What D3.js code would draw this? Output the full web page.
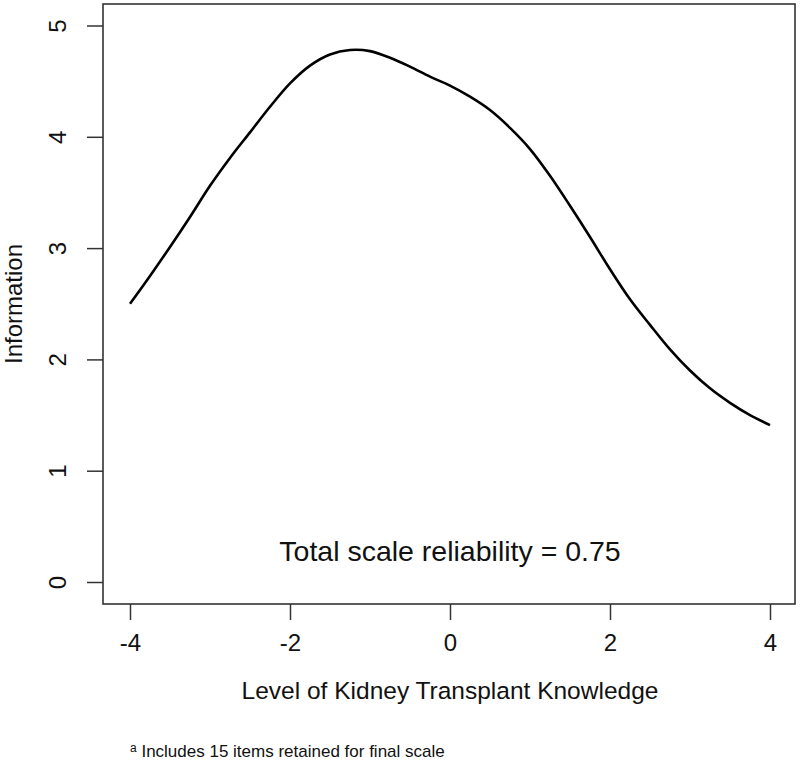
<!DOCTYPE html>
<meta charset="utf-8">
<script src="https://d3js.org/d3.v7.min.js"></script>
<style>
  body { margin: 0; background: #fff; }
  text { font-family: "Liberation Sans", Arial, sans-serif; fill: #111; }
</style>
<div id="my_dataviz"></div>
<script>

// test information curve
var theta = [-4, -3.75, -3.5, -3.25, -3, -2.75, -2.5, -2.25, -2, -1.75, -1.5, -1.25,
             -1, -0.75, -0.5, -0.25, 0, 0.25, 0.5, 0.75, 1, 1.25, 1.5, 1.75,
             2, 2.25, 2.5, 2.75, 3, 3.25, 3.5, 3.75, 4];
var info = [2.50, 2.75, 3.01, 3.28, 3.56, 3.81, 4.04, 4.27, 4.48, 4.64, 4.74, 4.78,
            4.77, 4.71, 4.63, 4.54, 4.46, 4.36, 4.24, 4.08, 3.89, 3.65, 3.38, 3.10,
            2.81, 2.54, 2.31, 2.09, 1.90, 1.74, 1.61, 1.50, 1.41];

var xTicks = [-4, -2, 0, 2, 4];
var yTicks = [0, 1, 2, 3, 4, 5];

var width = 800, height = 765;
// plot box (R style frame)
var box = {left: 103, right: 795, top: 4, bottom: 604};

var svg = d3.select("#my_dataviz")
  .append("svg")
    .attr("width", width)
    .attr("height", height);

var x = d3.scaleLinear().domain([-4, 4]).range([130, 770]);
var y = d3.scaleLinear().domain([0, 5]).range([582, 25.5]);

// frame
svg.append("rect")
  .attr("x", box.left)
  .attr("y", box.top)
  .attr("width", box.right - box.left)
  .attr("height", box.bottom - box.top)
  .attr("fill", "none")
  .attr("stroke", "#333")
  .attr("stroke-width", 1.6);

// X axis (plain hyphen for negatives, like R)
var xAxis = svg.append("g")
  .attr("transform", "translate(0," + box.bottom + ")")
  .call(d3.axisBottom(x).tickValues(xTicks).tickSize(16).tickPadding(14).tickFormat(function(d) { return String(d); }));
xAxis.select(".domain").remove();
xAxis.selectAll("line").attr("stroke", "#333").attr("stroke-width", 1.5);
xAxis.selectAll("text")
  .style("font-size", "24px")
  .style("font-family", "Liberation Sans, Arial, sans-serif")
  .attr("fill", "#111");

// Y axis, labels turned like R's default
var yAxis = svg.append("g")
  .attr("transform", "translate(" + box.left + ",0)")
  .call(d3.axisLeft(y).tickValues(yTicks).tickSize(16).tickFormat(function(d) { return String(d); }));
yAxis.select(".domain").remove();
yAxis.selectAll("line").attr("stroke", "#333").attr("stroke-width", 1.5);
yAxis.selectAll("text")
  .attr("x", null)
  .attr("dy", "0.35em")
  .attr("text-anchor", "middle")
  .attr("transform", "translate(-45,0) rotate(-90)")
  .style("font-size", "24px")
  .style("font-family", "Liberation Sans, Arial, sans-serif")
  .attr("fill", "#111");

// curve
var line = d3.line()
  .x(function(d, i) { return x(theta[i]); })
  .y(function(d) { return y(d); })
  .curve(d3.curveCatmullRom);

svg.append("path")
  .datum(info)
  .attr("d", line)
  .attr("fill", "none")
  .attr("stroke", "#000")
  .attr("stroke-width", 2.6);

// annotation inside the plot
svg.append("text")
  .attr("x", x(0))
  .attr("y", 561)
  .attr("text-anchor", "middle")
  .style("font-size", "28.5px")
  .text("Total scale reliability = 0.75");

// axis titles
svg.append("text")
  .attr("x", x(0))
  .attr("y", 699)
  .attr("text-anchor", "middle")
  .style("font-size", "24.5px")
  .text("Level of Kidney Transplant Knowledge");

svg.append("text")
  .attr("transform", "translate(22," + ((box.top + box.bottom) / 2) + ") rotate(-90)")
  .attr("text-anchor", "middle")
  .style("font-size", "24px")
  .text("Information");

// footnote
var note = svg.append("text")
  .attr("x", 130)
  .attr("y", 757)
  .style("font-size", "17px");
note.append("tspan")
  .style("font-size", "12px")
  .attr("dy", -5)
  .text("a");
note.append("tspan")
  .attr("dy", 5)
  .text(" Includes 15 items retained for final scale");

</script>
